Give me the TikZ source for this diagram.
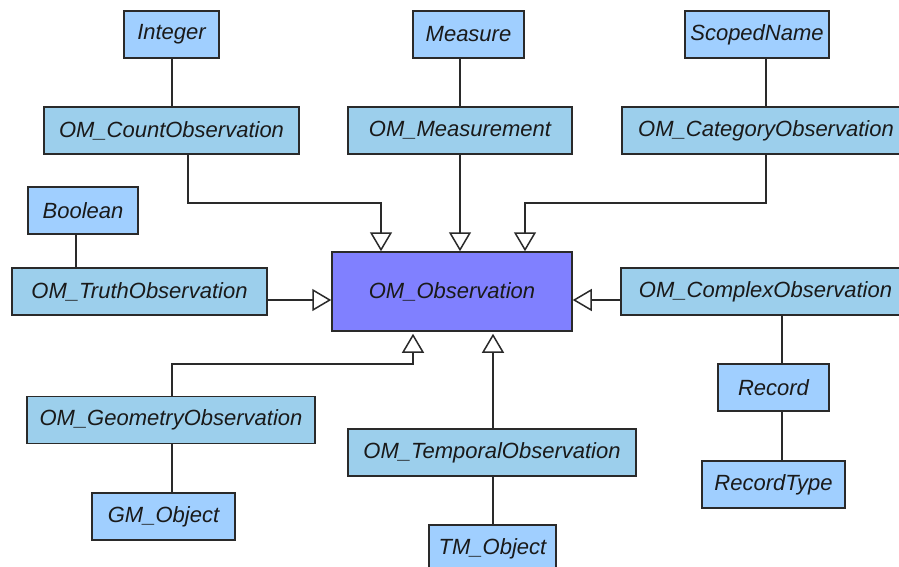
\documentclass[tikz,border=0pt]{standalone}
\usepackage{fontspec}
\setmainfont{Liberation Sans}
\usetikzlibrary{arrows.meta}
\definecolor{edgecol}{HTML}{2A2A2A}
\definecolor{typefill}{HTML}{A0CFFF}
\definecolor{classfill}{HTML}{9CCFEC}
\definecolor{rootfill}{HTML}{8080FF}
\definecolor{labelcol}{HTML}{1A1A1A}
\tikzset{
  umlbox/.style={draw=edgecol, line width=1.5pt, inner sep=0pt, minimum height=47pt,
    font=\fontsize{22}{26}\selectfont\itshape, text=labelcol},
  typebox/.style={umlbox, fill=typefill},
  classbox/.style={umlbox, fill=classfill},
  rootbox/.style={umlbox, fill=rootfill, minimum height=79pt},
  link/.style={draw=edgecol, line width=1.6pt},
  generalize/.style={link, -{Triangle[length=19pt, width=22pt, fill=white, line width=1.5pt]}},
}
\begin{document}
\begin{tikzpicture}[x=1pt, y=-1pt]
  \useasboundingbox (0,0) rectangle (899,566);
  \clip (0,0) rectangle (899,566);

  % value types
  \node[typebox, minimum width=95pt]  (integer)    at (171.5,34.5) {Integer};
  \node[typebox, minimum width=111pt] (measure)    at (468.5,34.5) {Measure};
  \node[typebox, minimum width=144pt] (scoped)     at (757,34.5)   {ScopedName};
  \node[typebox, minimum width=110pt] (boolean)    at (83,210.5)   {Boolean};
  \node[typebox, minimum width=111pt] (record)     at (773.5,387.5) {Record};
  \node[typebox, minimum width=143pt] (recordtype) at (773.5,484.5) {RecordType};
  \node[typebox, minimum width=143pt] (gmobject)   at (163.5,516.5) {GM\_Object};
  \node[typebox, minimum width=127pt] (tmobject)   at (492.5,548.5) {TM\_Object};

  % observation classes
  \node[classbox, minimum width=255pt] (countobs)    at (171.5,130.5) {OM\_CountObservation};
  \node[classbox, minimum width=224pt] (measurement) at (460,130.5)   {OM\_Measurement};
  \node[classbox, minimum width=288pt] (category)    at (766,130.5)   {OM\_CategoryObservation};
  \node[classbox, minimum width=255pt] (truth)       at (139.5,291.5) {OM\_TruthObservation};
  \node[classbox, minimum width=289pt] (complex)     at (765.5,291.5) {OM\_ComplexObservation};
  \node[classbox, minimum width=288pt] (geometry)    at (171,420)     {OM\_GeometryObservation};
  \node[classbox, minimum width=288pt] (temporal)    at (492,452.5)   {OM\_TemporalObservation};

  \node[rootbox, minimum width=240pt] (obs) at (452,291.5) {OM\_Observation};

  % associations to value types
  \draw[link] ([xshift=0.5pt]integer.south) -- ([xshift=0.5pt]integer.south |- countobs.north);
  \draw[link] (measurement.north) -- (measurement.north |- measure.south);
  \draw[link] (category.north) -- (category.north |- scoped.south);
  \draw[link] ([xshift=-7pt]boolean.south) -- ([xshift=-7pt]boolean.south |- truth.north);
  \draw[link] ([xshift=16.5pt]complex.south) -- ([xshift=16.5pt]complex.south |- record.north);
  \draw[link] ([xshift=8.5pt]record.south) -- ([xshift=8.5pt]record.south |- recordtype.north);
  \draw[link] ([xshift=1pt]geometry.south) -- ([xshift=1pt]geometry.south |- gmobject.north);
  \draw[link] ([xshift=1pt]temporal.south) -- ([xshift=1pt]temporal.south |- tmobject.north);

  % generalization targets on the root class
  \coordinate (topbend) at (0,203);
  \coordinate (lowbend) at (0,364);
  \coordinate (incount) at ([xshift=-71pt]obs.north);
  \coordinate (incat)   at ([xshift=73pt]obs.north);
  \coordinate (ingeom)  at ([xshift=-39pt,yshift=-2pt]obs.south);
  \coordinate (intemp)  at ([xshift=41pt,yshift=-2pt]obs.south);

  % generalizations
  \draw[generalize] ([xshift=16.5pt]countobs.south) |- (topbend -| incount) -- (incount);
  \draw[generalize] (measurement.south) -- (measurement.south |- obs.north);
  \draw[generalize] (category.south) |- (topbend -| incat) -- (incat);
  \draw[generalize] ([yshift=-8.5pt]truth.east) -- ([yshift=-8.5pt]obs.west);
  \draw[generalize] ([yshift=-8.5pt]complex.west) -- ([yshift=-8.5pt]obs.east);
  \draw[generalize] ([xshift=1pt]geometry.north) |- (lowbend -| ingeom) -- (ingeom);
  \draw[generalize] ([xshift=1pt]temporal.north) -- (intemp);
\end{tikzpicture}
\end{document}
